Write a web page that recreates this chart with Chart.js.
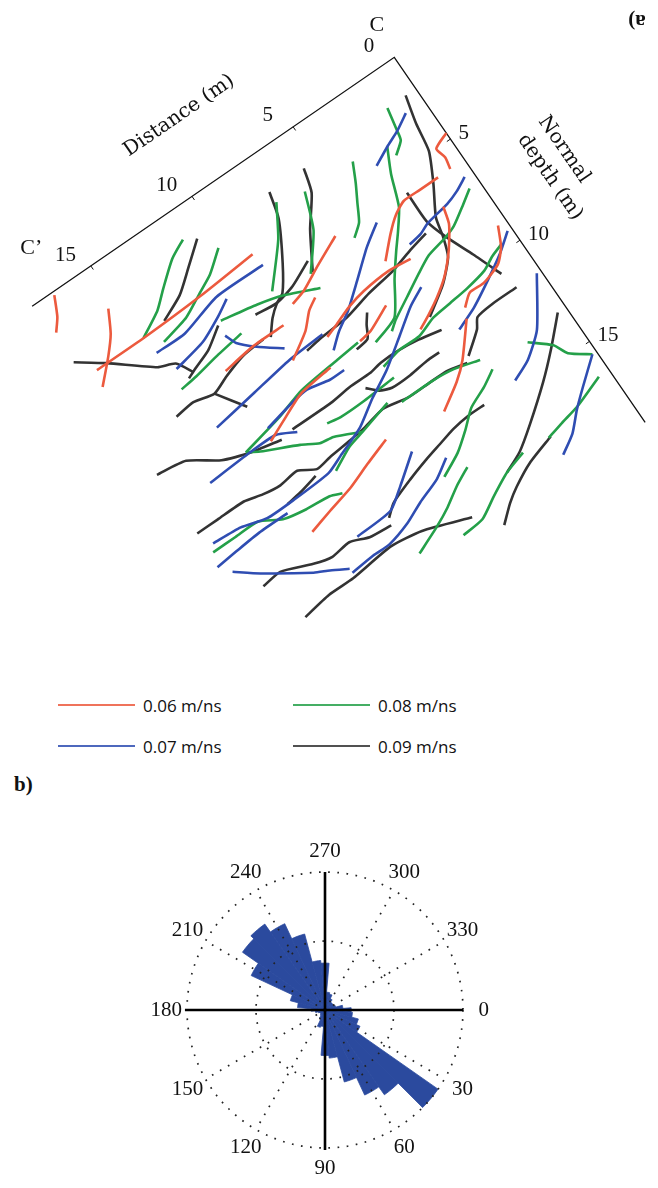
<!DOCTYPE html>
<html>
<head>
<meta charset="utf-8">
<title>Reflector traces and rose diagram</title>
<script src="https://cdn.jsdelivr.net/npm/chart.js@4.4.1/dist/chart.umd.min.js"></script>
<style>
  body { margin: 0; background: #fff; }
  #page { position: relative; width: 658px; height: 1188px; overflow: hidden; background: #fff; }
  #mapBox { position: absolute; left: 0; top: 0; width: 658px; height: 660px; }
  #roseBox { position: absolute; left: 145px; top: 830px; width: 360px; height: 360px; }
  #legend {
    position: absolute; left: 58px; top: 685px;
    display: grid; grid-template-columns: 235px 235px; grid-template-rows: 40.7px 40.7px;
    grid-auto-flow: column; font: 17px "Open Sans", sans-serif; color: #111;
  }
  .item { display: flex; align-items: center; }
  .swatch { width: 77px; height: 2px; margin-right: 8px; opacity: 0.85; }
  #labelB { position: absolute; left: 14px; top: 772px; font: bold 21px "Liberation Serif", serif; color: #111; }
</style>
</head>
<body>
<div id="page">
  <div id="mapBox"><canvas id="map"></canvas></div>
  <div id="legend"></div>
  <div id="labelB">b)</div>
  <div id="roseBox"><canvas id="rose"></canvas></div>
</div>
<script>
// Velocity classes, in legend order
const velocityLabels = ['0.06 m/ns', '0.07 m/ns', '0.08 m/ns', '0.09 m/ns'];
const velocityColors = ['#ec5a3e', '#2f4db2', '#24a049', '#333333'];

// Reflector traces, one list per velocity.
// Each point is [distance along C-C' (m), normal depth (m)]
const traces006 = [
    [[16.9,1.1],[17.3,1.9],[17.7,2.4]],
    [[15.4,2.8],[15.9,3.7],[16.5,4.4],[17.4,5.3]],
    [[17.2,4.6],[14.8,4.6],[12.0,4.5],[9.3,4.3]],
    [[6.1,5.6],[7.4,6.2],[8.4,6.7],[9.1,6.9]],
    [[8.2,7.2],[8.7,7.5],[9.3,8.1],[10.4,8.8]],
    [[9.9,7.4],[11.4,7.4],[12.9,7.6]],
    [[0.0,4.7],[0.7,5.0],[0.6,5.5],[0.7,6.0]],
    [[1.3,6.0],[2.2,6.0],[3.0,6.0],[3.6,6.3],[4.2,6.8],[5.0,7.6]],
    [[1.8,7.1],[2.0,7.8],[2.4,8.4],[2.8,8.9],[3.4,9.5],[4.1,10.0],[4.8,10.4],[5.4,10.7]],
    [[4.1,8.1],[5.1,8.0],[6.4,8.1],[7.3,8.3],[8.1,8.6],[8.7,8.8]],
    [[0.4,9.0],[0.8,9.8],[1.3,10.3],[2.2,10.6],[2.9,10.6],[3.4,11.0]],
    [[3.6,11.4],[4.7,12.7],[5.4,13.3],[6.5,14.0]],
    [[9.3,9.9],[10.9,10.1],[12.1,10.6],[13.0,11.0]],
    [[13.7,15.0],[12.6,14.7],[11.4,14.4],[10.3,14.0],[9.1,13.6]],
    [[6.0,9.1],[7.1,9.6],[7.7,9.7]]
];

const traces007 = [
    [[9.2,4.9],[11.5,4.9],[13.4,5.4],[14.8,5.4]],
    [[11.2,5.2],[11.9,5.6],[13.0,6.1],[14.5,6.4]],
    [[12.1,6.4],[11.9,6.9],[11.3,7.5],[10.4,8.2]],
    [[8.8,8.6],[10.5,8.7],[12.5,9.0],[14.5,9.3]],
    [[0.9,3.1],[1.6,3.5],[2.3,3.8],[3.1,4.2]],
    [[0.4,6.6],[1.0,6.9],[1.6,7.1],[2.7,7.3],[3.2,7.5],[3.8,7.6]],
    [[4.4,6.1],[5.3,6.7],[6.4,7.6],[7.4,8.4],[8.2,8.9],[8.8,9.4]],
    [[0.2,9.4],[1.0,10.0],[2.0,10.6],[3.1,11.2],[4.1,11.6]],
    [[0.2,11.5],[1.5,13.4],[2.5,14.2],[3.4,14.6]],
    [[0.2,15.5],[1.3,16.4],[2.0,17.0],[2.7,17.7],[3.5,18.2]],
    [[8.9,10.3],[9.6,10.3],[10.6,10.1],[11.4,10.2],[12.8,10.5]],
    [[11.9,11.3],[12.7,10.9],[14.1,10.9],[16.0,11.0]],
    [[4.4,9.3],[5.2,9.7],[6.2,10.4],[7.5,11.3],[8.6,11.9],[9.7,12.6],[11.0,13.1],[11.8,13.4],[13.6,13.5],[14.9,13.5],[16.0,13.2],[17.3,13.1]],
    [[17.7,14.0],[16.7,13.9],[15.5,13.8],[14.1,13.8]],
    [[17.3,14.5],[16.4,15.2],[14.6,16.4],[14.0,16.7],[13.3,17.1]],
    [[8.5,14.6],[9.7,15.5],[10.6,16.1],[12.3,16.2]],
    [[7.5,15.6],[8.3,16.1],[9.4,16.5],[10.3,16.9],[11.4,17.2],[12.2,17.2],[13.3,17.3]]
];

const traces008 = [
    [[11.3,2.2],[12.1,2.6],[13.1,3.4],[13.8,4.0],[14.9,4.6]],
    [[10.3,3.3],[11.2,4.0],[12.0,4.4],[13.0,4.9],[14.3,5.2]],
    [[7.3,3.1],[8.1,4.4],[9.5,6.0]],
    [[6.1,3.4],[6.7,4.9],[7.8,6.3]],
    [[11.9,5.8],[10.3,6.1],[9.2,6.4],[7.8,7.0]],
    [[11.5,6.7],[12.9,6.9],[14.0,7.1],[14.8,7.2]],
    [[1.4,2.5],[1.6,3.5],[1.7,3.9],[2.2,4.3]],
    [[2.3,3.8],[2.8,4.8],[3.3,6.1],[3.9,6.9],[4.4,7.5],[5.1,8.4],[6.0,9.7],[7.2,10.1]],
    [[3.8,3.5],[4.2,4.3],[4.6,5.0],[5.0,5.7],[5.5,6.1]],
    [[0.5,7.1],[1.1,7.5],[1.9,8.0],[2.5,8.2],[3.4,8.4],[4.2,8.8],[5.1,9.3],[6.0,9.8],[6.4,10.1]],
    [[0.7,9.7],[1.3,9.9],[1.9,10.2],[2.9,10.4],[3.8,10.5],[4.7,10.6],[5.6,10.9],[6.6,10.9],[7.5,11.1]],
    [[2.1,13.6],[1.3,14.3],[1.0,14.9],[0.2,15.5]],
    [[0.5,16.4],[1.9,16.9],[2.8,17.1],[3.6,17.3]],
    [[4.8,17.2],[5.8,17.5],[6.8,18.0],[7.7,18.5],[8.7,18.6]],
    [[3.9,13.7],[4.6,14.1],[5.5,14.5],[6.2,15.1],[7.0,15.7],[8.0,16.2]],
    [[4.1,13.1],[5.2,12.8],[6.2,12.7],[7.7,12.7]],
    [[7.8,9.7],[8.9,9.8],[10.8,10.0],[12.2,10.4],[14.1,10.8]],
    [[14.1,10.8],[13.6,11.1],[12.1,11.8],[11.4,12.2],[10.8,12.3],[9.7,12.8]],
    [[17.5,13.4],[16.4,13.4],[15.3,13.4],[14.4,13.9],[13.4,14.1],[12.3,14.2],[11.8,14.4]],
    [[7.0,16.4],[7.8,16.8],[8.6,17.3],[9.4,17.7],[10.6,18.2]],
    [[10.7,11.7],[10.1,11.8],[9.0,11.8],[7.4,11.7]],
    [[11.5,13.5],[10.5,13.0],[9.7,12.8],[8.2,12.4]]
];

const traces009 = [
    [[17.8,3.8],[16.7,4.6],[15.1,5.9],[14.4,6.2],[14.0,6.9]],
    [[14.3,7.0],[13.8,6.8],[13.0,6.5],[12.1,5.9]],
    [[10.8,2.5],[11.8,3.3],[12.7,4.0],[13.8,4.5]],
    [[7.3,2.6],[7.6,3.7],[8.5,5.3],[9.2,6.3],[9.6,6.5],[10.1,6.9],[10.6,7.5]],
    [[5.6,2.6],[5.9,3.6],[6.8,4.8],[7.7,6.3]],
    [[10.6,6.4],[9.6,6.5],[8.7,6.3],[7.6,5.8]],
    [[10.9,7.4],[12.0,7.5],[13.0,7.8],[13.8,8.1],[14.7,7.9],[15.6,8.0]],
    [[13.8,8.1],[13.0,9.3]],
    [[0.5,2.5],[0.8,3.7],[1.0,4.9],[1.6,6.1],[2.3,7.3],[2.5,8.1],[2.8,8.9],[3.6,9.7],[4.8,10.5]],
    [[2.7,5.8],[2.7,7.2],[2.4,8.2],[1.9,9.4],[1.4,10.7]],
    [[3.0,7.6],[3.9,7.8],[5.0,8.1],[6.3,8.3],[7.6,8.6],[9.0,8.7],[9.7,8.8]],
    [[1.2,11.5],[2.4,11.5],[3.2,11.6],[3.5,12.0],[4.4,12.7]],
    [[0.4,13.3],[1.5,14.4],[2.5,15.3],[3.9,16.4],[4.9,17.1],[5.8,17.5]],
    [[3.5,17.3],[4.8,17.7],[5.8,18.2],[6.4,18.6],[7.1,19.2]],
    [[5.0,14.7],[5.8,14.7],[6.6,14.8],[7.4,15.0],[8.2,15.2],[9.2,15.5],[10.3,15.9],[10.8,16.3]],
    [[17.6,12.4],[16.6,12.4],[15.3,12.4],[14.5,12.6],[13.7,12.7],[12.8,12.6],[12.1,13.0],[11.4,12.9],[10.3,12.8],[9.5,12.7],[8.5,12.5],[7.4,12.7],[6.4,12.7],[5.5,12.7],[4.6,12.9]],
    [[4.7,11.2],[5.7,11.0],[6.6,10.9],[7.5,10.9],[8.1,11.0],[9.1,11.0],[10.1,11.1],[12.0,11.1]],
    [[6.8,8.9],[7.1,9.3],[7.4,9.8],[8.0,9.9]],
    [[17.6,9.5],[16.3,9.7],[15.1,10.5],[14.0,10.9],[12.6,11.2]],
    [[16.6,15.7],[15.7,15.6],[14.4,16.1],[13.6,16.3],[12.7,16.2],[11.9,16.5],[10.9,16.6]],
    [[15.9,17.7],[14.6,17.5],[13.4,17.5],[11.4,17.3],[10.0,17.5],[8.0,18.2]],
    [[8.6,11.4],[8.2,11.8],[7.7,12.0],[6.8,12.0],[5.9,11.9],[5.3,11.9]],
    [[13.9,13.5],[13.2,13.4],[12.3,13.2]]
];

// Axis ticks of the section frame
const distanceTicks = [0, 5, 10, 15];
const depthTicks = [5, 10, 15];

// Rose diagram: 10 degree bins (centre, clockwise from east) and relative frequency
const roseBins = [0, 10, 20, 30, 40, 50, 60, 70, 80, 90, 100, 110, 120, 130, 140, 150, 160, 170,
                  180, 190, 200, 210, 220, 230, 240, 250, 260, 270, 280, 290, 300, 310, 320, 330, 340, 350];
const roseCounts = [1.9, 2.0, 2.5, 2.8, 10.0, 7.5, 6.8, 5.4, 3.5, 3.3, 1.2, 1.3, 0.7, 0.5, 0.4, 0.4, 0.5, 0.7,
                    1.0, 2.0, 2.6, 5.9, 7.3, 7.6, 6.9, 5.7, 3.6, 3.4, 1.3, 1.2, 0.9, 0.7, 0.7, 0.7, 0.8, 1.3];
const roseLabels = [0, 30, 60, 90, 120, 150, 180, 210, 240, 270, 300, 330];

// Section frame geometry
const AXIS_ANGLE = 34.5 * Math.PI / 180; // tilt of the C-C' line
const APEX_DEPTH = 0.96;                 // normal depth at C
const DIST_END = 17.9;
const DEPTH_END = 19.0;
const PX_PER_M = 24.55;
const APEX_PX = { x: 394.3, y: 57.3 };

// distance/depth -> plane coordinates (m, x right, y down)
function toPlane(d, z) {
    return {
        x: -d * Math.cos(AXIS_ANGLE) + (z - APEX_DEPTH) * Math.sin(AXIS_ANGLE),
        y: d * Math.sin(AXIS_ANGLE) + (z - APEX_DEPTH) * Math.cos(AXIS_ANGLE)
    };
}

// Legend
const legend = document.getElementById('legend');
velocityLabels.forEach((label, i) => {
    const item = document.createElement('div');
    item.className = 'item';
    item.innerHTML = `<span class="swatch" style="background:${velocityColors[i]}"></span><span>${label}</span>`;
    legend.appendChild(item);
});

// Build one line dataset per trace
const mapDatasets = [];
[traces006, traces007, traces008, traces009].forEach((group, v) => {
    group.forEach(trace => {
        mapDatasets.push({
            label: velocityLabels[v],
            data: trace.map(p => toPlane(p[0], p[1])),
            borderColor: velocityColors[v],
            backgroundColor: velocityColors[v],
            showLine: true,
            fill: false,
            borderWidth: 2.6,
            tension: 0.2,
            pointRadius: 0,
            pointHitRadius: 0
        });
    });
});

// Draws the tilted C-C' / depth frame and its labels
const sectionFrame = {
    id: 'sectionFrame',
    beforeDatasetsDraw(chart) {
        const { ctx, scales: { x, y } } = chart;
        const pt = (d, z) => {
            const p = toPlane(d, z);
            return [x.getPixelForValue(p.x), y.getPixelForValue(p.y)];
        };
        ctx.save();
        ctx.strokeStyle = '#111';
        ctx.lineWidth = 1.3;
        ctx.beginPath();
        ctx.moveTo(...pt(DIST_END, APEX_DEPTH));
        ctx.lineTo(...pt(0, APEX_DEPTH));
        ctx.lineTo(...pt(0, DEPTH_END));
        ctx.stroke();

        ctx.lineWidth = 1;
        distanceTicks.forEach(d => {
            if (d === 0) return;
            ctx.beginPath();
            ctx.moveTo(...pt(d, APEX_DEPTH));
            ctx.lineTo(...pt(d, APEX_DEPTH + 0.18));
            ctx.stroke();
        });
        depthTicks.forEach(z => {
            ctx.beginPath();
            ctx.moveTo(...pt(0, z));
            ctx.lineTo(...pt(0.18, z));
            ctx.stroke();
        });

        ctx.fillStyle = '#111';
        ctx.font = '21px "Liberation Serif", serif';
        ctx.textAlign = 'center';
        ctx.textBaseline = 'middle';
        distanceTicks.forEach(d => ctx.fillText(String(d), ...pt(d + 0.6, APEX_DEPTH - 0.95)));
        ctx.textAlign = 'left';
        depthTicks.forEach(z => ctx.fillText(String(z), ...pt(-0.4, z)));

        ctx.textAlign = 'center';
        ctx.font = '22px "Liberation Serif", serif';
        ctx.fillText('C', ...pt(-0.16, APEX_DEPTH - 1.48));
        ctx.fillText('C\u2019', ...pt(16.6, APEX_DEPTH - 1.95));

        // axis titles, written along the axes
        ctx.font = '20px "DejaVu Serif", serif';
        let p = pt(8.57, APEX_DEPTH - 3.0);
        ctx.save();
        ctx.translate(p[0], p[1]);
        ctx.rotate(-AXIS_ANGLE);
        ctx.fillText('Distance (m)', 0, 0);
        ctx.restore();

        [['Normal', -3.57, 7.97], ['depth (m)', -2.46, 8.58]].forEach(([txt, d, z]) => {
            const q = pt(d, z);
            ctx.save();
            ctx.translate(q[0], q[1]);
            ctx.rotate(Math.PI / 2 - AXIS_ANGLE);
            ctx.fillText(txt, 0, 0);
            ctx.restore();
        });

        // panel tag, printed upside down in the figure
        ctx.save();
        ctx.translate(637, 20);
        ctx.rotate(Math.PI);
        ctx.font = 'bold 21px "Liberation Serif", serif';
        ctx.fillText('a)', 0, 0);
        ctx.restore();

        ctx.restore();
    }
};

new Chart(document.getElementById('map'), {
    type: 'scatter',
    data: { datasets: mapDatasets },
    options: {
        responsive: true,
        maintainAspectRatio: false,
        animation: false,
        layout: { padding: 0 },
        plugins: { legend: { display: false }, tooltip: { enabled: false } },
        scales: {
            x: { type: 'linear', display: false, min: -APEX_PX.x / PX_PER_M, max: (658 - APEX_PX.x) / PX_PER_M },
            y: { type: 'linear', display: false, reverse: true, min: -APEX_PX.y / PX_PER_M, max: (660 - APEX_PX.y) / PX_PER_M }
        }
    },
    plugins: [sectionFrame]
});

// Rose diagram overlay: dotted rings/spokes, solid cross and angle labels
const OUTER_RING = 10;
const roseOverlay = {
    id: 'roseOverlay',
    afterDatasetsDraw(chart) {
        const r = chart.scales.r;
        const ctx = chart.ctx;
        const cx = r.xCenter, cy = r.yCenter;
        const R = v => r.getDistanceFromCenterForValue(v);
        ctx.save();
        ctx.strokeStyle = '#222';
        ctx.lineWidth = 1.7;
        ctx.setLineDash([1.7, 7.5]);
        [OUTER_RING / 2, OUTER_RING].forEach(v => {
            ctx.beginPath();
            ctx.arc(cx, cy, R(v), 0, 2 * Math.PI);
            ctx.stroke();
        });
        roseLabels.forEach(a => {
            if (a % 90 === 0) return;
            const t = a * Math.PI / 180;
            ctx.beginPath();
            ctx.moveTo(cx, cy);
            ctx.lineTo(cx + R(OUTER_RING) * Math.cos(t), cy + R(OUTER_RING) * Math.sin(t));
            ctx.stroke();
        });
        ctx.setLineDash([]);
        ctx.strokeStyle = '#000';
        ctx.lineWidth = 2.6;
        ctx.beginPath();
        ctx.moveTo(cx - R(OUTER_RING + 0.15), cy);
        ctx.lineTo(cx + R(OUTER_RING), cy);
        ctx.moveTo(cx, cy - R(OUTER_RING));
        ctx.lineTo(cx, cy + R(OUTER_RING + 0.15));
        ctx.stroke();

        ctx.fillStyle = '#111';
        ctx.font = '21px "Liberation Serif", serif';
        ctx.textAlign = 'center';
        ctx.textBaseline = 'middle';
        roseLabels.forEach(a => {
            const t = a * Math.PI / 180;
            ctx.fillText(String(a), cx + R(11.5) * Math.cos(t), cy + R(11.5) * Math.sin(t));
        });
        ctx.restore();
    }
};

new Chart(document.getElementById('rose'), {
    type: 'polarArea',
    data: {
        labels: roseBins.map(String),
        datasets: [{
            data: roseCounts,
            backgroundColor: '#2b4a9e',
            borderColor: '#2b4a9e',
            borderWidth: 0.8
        }]
    },
    options: {
        responsive: true,
        maintainAspectRatio: false,
        animation: false,
        layout: { padding: 0 },
        plugins: { legend: { display: false }, tooltip: { enabled: false } },
        scales: {
            // outer dotted ring sits 138 px from the centre of a 360 px box
            r: { display: false, min: 0, max: OUTER_RING * 180 / 138, startAngle: 85 }
        }
    },
    plugins: [roseOverlay]
});
</script>
</body>
</html>
